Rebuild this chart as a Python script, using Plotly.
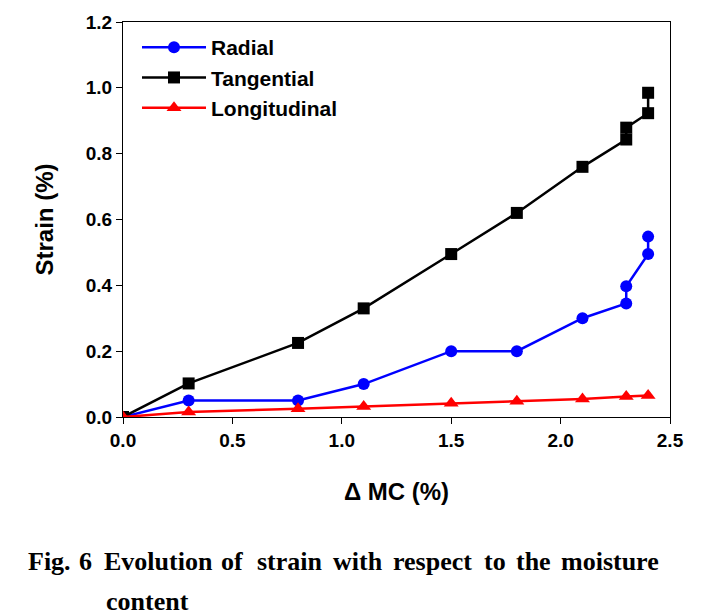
import plotly.graph_objects as go

rad_x = [0, 0.3, 0.8, 1.1, 1.5, 1.8, 2.1, 2.3, 2.3, 2.4, 2.4]
rad_y = [0, 0.05, 0.05, 0.10, 0.20, 0.20, 0.30, 0.345, 0.397, 0.495, 0.548]
tan_x = [0, 0.3, 0.8, 1.1, 1.5, 1.8, 2.1, 2.3, 2.3, 2.4, 2.4]
tan_y = [0, 0.102, 0.225, 0.33, 0.495, 0.62, 0.76, 0.843, 0.879, 0.923, 0.985]
lon_x = [0, 0.3, 0.8, 1.1, 1.5, 1.8, 2.1, 2.3, 2.4]
lon_y = [0, 0.015, 0.025, 0.032, 0.042, 0.048, 0.055, 0.062, 0.065]

x_ticks = [0.0, 0.5, 1.0, 1.5, 2.0, 2.5]
y_ticks = [0.0, 0.2, 0.4, 0.6, 0.8, 1.0, 1.2]

caption_line1 = ["Fig.", "6", "Evolution", "of", "strain", "with", "respect", "to", "the", "moisture"]
caption_line2 = "content"

# layout geometry (page pixels)
PX0, PX1, PY0, PY1 = 122, 669, 21, 416
SHIFT = 7
W, H = 709, 616


def paper_x(px):
    return (px - PX0) / (PX1 - PX0)


def paper_y(py):
    return (PY1 - py) / (PY1 - PY0)


fig = go.Figure()
fig.add_trace(go.Scatter(x=rad_x, y=rad_y, name="Radial", mode="lines+markers",
                         line=dict(color="#0000ff", width=2.5),
                         marker=dict(symbol="circle", size=12, color="#0000ff")))
fig.add_trace(go.Scatter(x=tan_x, y=tan_y, name="Tangential", mode="lines+markers",
                         line=dict(color="#000000", width=2.5),
                         marker=dict(symbol="square", size=12, color="#000000")))
fig.add_trace(go.Scatter(x=lon_x, y=lon_y, name="Longitudinal", mode="lines+markers",
                         line=dict(color="#ff0000", width=2.5),
                         marker=dict(symbol="triangle-up", size=13, color="#ff0000")))

sans = "Liberation Sans, Arial, sans-serif"
serif = "Liberation Serif, Times New Roman, serif"
tick_font = dict(family=sans, size=19, color="black", weight="bold")
title_font = dict(family=sans, size=24, color="black", weight="bold")

fig.update_layout(
    width=W, height=H,
    margin=dict(l=PX0 - SHIFT, r=W - (PX1 - SHIFT), t=PY0 - SHIFT, b=H - (PY1 - SHIFT)),
    paper_bgcolor="white", plot_bgcolor="white",
    font=dict(family=sans, color="black"),
    xaxis=dict(range=[0, 2.5], tickvals=x_ticks, ticktext=[f"{v:.1f}" for v in x_ticks],
               showgrid=False, zeroline=False, showline=True, linecolor="black", linewidth=1,
               mirror=True, ticks="outside", ticklen=6, tickcolor="black", tickfont=tick_font,
               automargin=False,
               title=dict(text="Δ MC (%)", font=title_font, standoff=33)),
    yaxis=dict(range=[0, 1.2], tickvals=y_ticks, ticktext=[f"{v:.1f}" for v in y_ticks],
               showgrid=False, zeroline=False, showline=True, linecolor="black", linewidth=1,
               mirror=True, ticks="outside", ticklen=6, tickcolor="black", tickfont=tick_font,
               automargin=False,
               title=dict(text="Strain (%)", font=title_font, standoff=25)),
    legend=dict(x=paper_x(136), y=paper_y(26), xanchor="left", yanchor="top", bgcolor="rgba(0,0,0,0)",
                font=dict(family=sans, size=21, color="black", weight="bold"),
                itemwidth=64, tracegroupgap=0),
    showlegend=True,
)

cap_font = dict(family=serif, size=26, color="black", weight="bold")
line1_left = [27, 78, 103, 220, 256, 332, 392, 483, 515, 560]
for word, px in zip(caption_line1, line1_left):
    fig.add_annotation(text=word, xref="paper", yref="paper", x=paper_x(px - 2), y=paper_y(560),
                       xanchor="left", yanchor="middle", showarrow=False, font=cap_font)
fig.add_annotation(text=caption_line2, xref="paper", yref="paper", x=paper_x(105 - 2), y=paper_y(600),
                   xanchor="left", yanchor="middle", showarrow=False, font=cap_font)

fig.write_html("out.html")
